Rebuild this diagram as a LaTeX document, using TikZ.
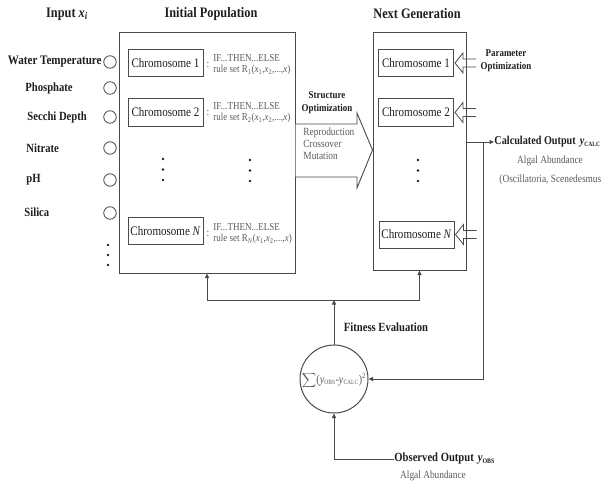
\documentclass[tikz,border=0pt]{standalone}
\usepackage{fontspec}
\setmainfont{Liberation Serif}[FakeStretch=0.85]
\usetikzlibrary{arrows.meta}
\definecolor{lc}{HTML}{4A4A4A}
\definecolor{tc}{HTML}{5A5A5A}
\definecolor{bc}{HTML}{1E1E1E}
\begin{document}
\begin{tikzpicture}[x=1pt,y=-1pt,line width=0.9pt,draw=lc,
  ttl/.style={font=\fontsize{14.5}{16}\selectfont\bfseries,text=bc},
  lbl/.style={font=\fontsize{12.5}{14}\selectfont\bfseries,text=bc,anchor=west,inner sep=0},
  chrom/.style={draw=lc,line width=1pt,minimum width=75pt,minimum height=27pt,font=\fontsize{13}{15}\selectfont,text=bc,inner sep=0},
  ruletxt/.style={font=\fontsize{10.6}{12}\selectfont,text=tc,anchor=west,align=left,inner sep=0},
  colon/.style={font=\fontsize{11}{12}\selectfont,text=tc,inner sep=0},
  inp/.style={circle,draw=lc,minimum size=12.5pt,inner sep=0,line width=0.8pt},
  ar/.style={-{Triangle[length=4.5pt,width=4pt]},draw=lc},
  dotc/.style={circle,fill=bc,inner sep=0,minimum size=2.8pt},
  gtxt/.style={font=\fontsize{11}{13}\selectfont,text=tc,inner sep=0}
]
\useasboundingbox (0,0) rectangle (604,484);

% titles
\node[ttl] (tin) at (67,14) {Input \textit{x}\textsubscript{\textit{i}}};
\node[ttl] (tip) at (211,14) {Initial Population};
\node[ttl] (tng) at (417,14) {Next Generation};

% input labels and circles
\node[lbl,anchor=east,font=\fontsize{13}{14}\selectfont\bfseries] (l1) at (102,62) {Water Temperature};
\node[lbl] (l2) at (25,88) {Phosphate};
\node[lbl] (l3) at (27,117) {Secchi Depth};
\node[lbl] (l4) at (26,148) {Nitrate};
\node[lbl] (l5) at (26,180) {pH};
\node[lbl] (l6) at (24,212) {Silica};
\node[inp] (i1) at (110,62) {};
\node[inp] (i2) at (110,88) {};
\node[inp] (i3) at (110,117) {};
\node[inp] (i4) at (110,148) {};
\node[inp] (i5) at (110,180) {};
\node[inp] (i6) at (110,213) {};
\node[dotc] (id1) at (108,245) {};
\node[dotc] (id2) at (108,255) {};
\node[dotc] (id3) at (108,265) {};

% initial population
\node[draw=lc,line width=1pt,minimum width=176pt,minimum height=240pt,inner sep=0] (ip) at (207,153) {};
\node[chrom] (a1) at (165.5,63) {Chromosome 1};
\node[chrom] (a2) at (165.5,112.5) {Chromosome 2};
\node[chrom] (an) at (165.5,231) {Chromosome \textit{N}};
\node[colon] (k1) at (208,65) {:};
\node[ruletxt] (r1) at (213,65) {IF...THEN...ELSE\\[-1pt]rule set R\textsubscript{1}(\textit{x}\textsubscript{1},\textit{x}\textsubscript{2},...,\textit{x})};
\node[colon] (k2) at (208,113) {:};
\node[ruletxt] (r2) at (213,113) {IF...THEN...ELSE\\[-1pt]rule set R\textsubscript{2}(\textit{x}\textsubscript{1},\textit{x}\textsubscript{2},...,\textit{x})};
\node[colon] (kn) at (208,234) {:};
\node[ruletxt] (rn) at (213,234) {IF...THEN...ELSE\\[-1pt]rule set R\textsubscript{\textit{N}}(\textit{x}\textsubscript{1},\textit{x}\textsubscript{2},...,\textit{x})};
\node[dotc] (ad1) at (163,159) {};
\node[dotc] (ad2) at (163,169.5) {};
\node[dotc] (ad3) at (163,180) {};
\node[dotc] (ae1) at (250,160) {};
\node[dotc] (ae2) at (250,170.5) {};
\node[dotc] (ae3) at (250,181) {};

% next generation
\node[draw=lc,line width=1pt,minimum width=93pt,minimum height=237pt,inner sep=0] (ng) at (419.5,151.5) {};
\node[chrom] (b1) at (416,63) {Chromosome 1};
\node[chrom] (b2) at (416,112.5) {Chromosome 2};
\node[chrom] (bn) at (416.5,234.5) {Chromosome \textit{N}};
\node[dotc] (bd1) at (418,160) {};
\node[dotc] (bd2) at (418,170.5) {};
\node[dotc] (bd3) at (418,181) {};

% parameter optimization arrows
\foreach \n in {b1,b2,bn}{
  \draw[line width=0.8pt,shift={(\n.east)}] (22,-4) -- (9,-4) -- (9,-10) -- (1,0) -- (9,10) -- (9,4) -- (22,4);
}
\node[font=\fontsize{10.5}{12}\selectfont\bfseries,text=bc,align=center,inner sep=0] (po) at (506,61) {Parameter\\[1pt]Optimization};

% structure optimization arrow
\draw[line width=0.9pt,fill=white] (ip.east |- 0,124) -- (357,124) -- (357,113) -- (ng.west |- 0,150) -- (357,188) -- (357,177) -- (ip.east |- 0,177);
\node[font=\fontsize{10.5}{12}\selectfont\bfseries,text=bc,align=center,inner sep=0] (so) at (327,103) {Structure\\[1pt]Optimization};
\node[gtxt,align=left,anchor=north west] (rcm) at (303,127) {Reproduction\\[-1pt]Crossover\\[-1pt]Mutation};

% calculated output
\node[font=\fontsize{12}{14}\selectfont\bfseries,text=bc,anchor=west,inner sep=0] (calc) at (494,142) {Calculated Output\hspace{4pt}\textit{y}\textsubscript{\fontsize{6.5}{8}\selectfont CALC}};
\node[gtxt] (alg1) at (550,161) {Algal Abundance};
\node[gtxt,anchor=west] (alg2) at (499,180) {(Oscillatoria, Scenedesmus};
\draw[ar] (ng.east |- calc.west) -- (calc.west);
\coordinate (vj) at (483,142);

% fitness circle
\node[circle,draw=lc,line width=1pt,minimum size=68pt,inner sep=0] (circ) at (334,379) {};
\node[text=tc,font=\fontsize{12}{13}\selectfont,inner sep=0] (sum) at (334,380) {$\displaystyle\sum$(\textit{y}\textsubscript{\fontsize{6.5}{7}\selectfont OBS}-\textit{y}\textsubscript{\fontsize{6.5}{7}\selectfont CALC})\textsuperscript{2}};
\draw[ar] (vj) |- (circ.east);
\coordinate (fj) at (334,300);
\draw[ar] (circ.north) -- (fj);
\draw[ar] (fj) -| (ip.south);
\draw[ar] (fj) -| (ng.south);
\node[font=\fontsize{12.5}{14}\selectfont\bfseries,text=bc,inner sep=0] (fe) at (386,327) {Fitness Evaluation};

% observed output
\node[font=\fontsize{12.5}{14}\selectfont\bfseries,text=bc,anchor=west,inner sep=0] (obs) at (394,459) {Observed Output\hspace{4pt}\textit{y}\textsubscript{\fontsize{7}{8}\selectfont OBS}};
\node[gtxt] (alg3) at (433,476) {Algal Abundance};
\draw[ar] (obs.west) -| (circ.south);
\end{tikzpicture}
\end{document}
